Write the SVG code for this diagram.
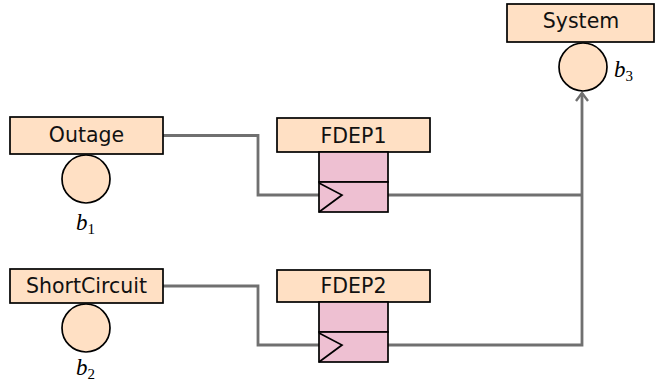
<svg xmlns="http://www.w3.org/2000/svg" width="655" height="386" viewBox="0 0 655 386">
<style>
.lbl{fill:#FFE0C4;stroke:#000;stroke-width:1.7}
.ev{fill:#FFE0C4;stroke:#000;stroke-width:1.7}
.gate{fill:#EEC0D2;stroke:#000;stroke-width:1.7}
.tri{fill:none;stroke:#000;stroke-width:1.7}
.t{font-family:"DejaVu Sans",sans-serif;font-size:20.5px;fill:#111;text-anchor:middle}
.m{font-family:"Liberation Serif","DejaVu Serif",serif;font-style:italic;font-size:23px;fill:#000}
.sub{font-style:normal;font-size:15px}
.conn{fill:none;stroke:#707070;stroke-width:2.8}
</style>
<defs>
<marker id="arr" viewBox="0 0 12 14" refX="10" refY="7" markerWidth="12" markerHeight="14" markerUnits="userSpaceOnUse" orient="auto">
<path d="M2,1 L10,7 L2,13" fill="none" stroke="#707070" stroke-width="2.4"/>
</marker>
</defs>
<g id="connectors">
<path class="conn" d="M163,135.5 H258 V195 H319"/>
<path class="conn" d="M163,286 H258 V345 H319"/>
<path class="conn" d="M388,195 H582"/>
<path class="conn" d="M388,345 H582 V93" marker-end="url(#arr)"/>
</g>
<g id="outage">
<rect class="lbl" x="10" y="117" width="153" height="37"/>
<text class="t" x="86.5" y="142">Outage</text>
<circle class="ev" cx="86" cy="179" r="24"/>
<text class="m" x="76" y="230">b<tspan class="sub" dy="4">1</tspan></text>
</g>
<g id="shortcircuit">
<rect class="lbl" x="10" y="269" width="153" height="34"/>
<text class="t" x="86.5" y="293">ShortCircuit</text>
<circle class="ev" cx="86" cy="328" r="24"/>
<text class="m" x="76" y="375">b<tspan class="sub" dy="4">2</tspan></text>
</g>
<g id="fdep1">
<rect class="lbl" x="277" y="118" width="153" height="34"/>
<text class="t" x="353.5" y="143">FDEP1</text>
<rect class="gate" x="319" y="152" width="69" height="30"/>
<rect class="gate" x="319" y="182" width="69" height="30"/>
<path class="tri" d="M319,183 L342,195 L319,212"/>
</g>
<g id="fdep2">
<rect class="lbl" x="277" y="270" width="153" height="32"/>
<text class="t" x="353.5" y="293">FDEP2</text>
<rect class="gate" x="319" y="302" width="69" height="30"/>
<rect class="gate" x="319" y="332" width="69" height="30"/>
<path class="tri" d="M319,333 L342,345 L319,362"/>
</g>
<g id="system">
<rect class="lbl" x="507" y="4" width="147" height="38"/>
<text class="t" x="581" y="28">System</text>
<circle class="ev" cx="583" cy="67" r="24"/>
<text class="m" x="614" y="77">b<tspan class="sub" dy="4">3</tspan></text>
</g>
</svg>
